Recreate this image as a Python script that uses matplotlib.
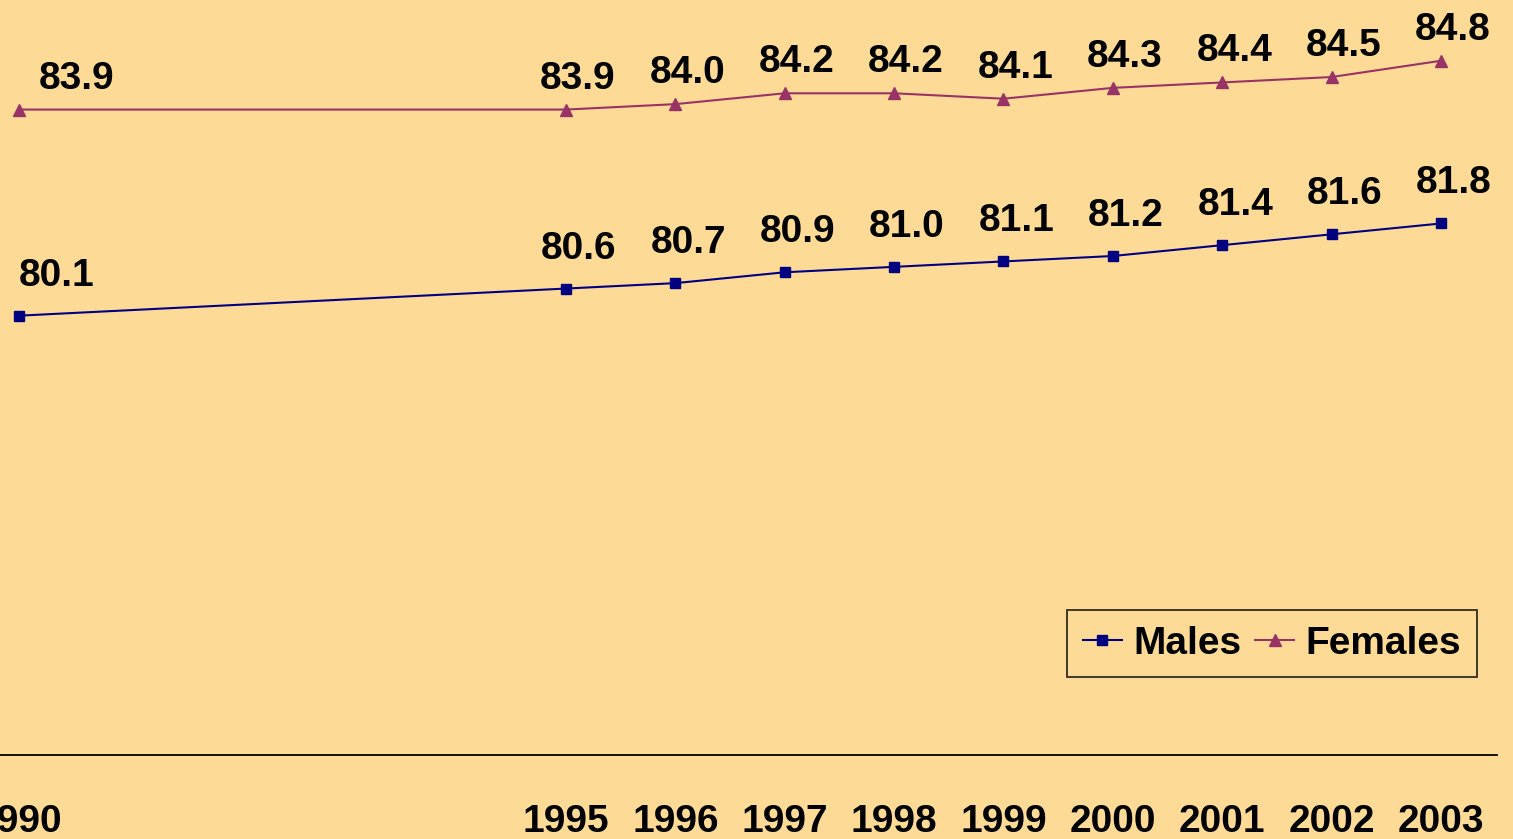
import matplotlib
matplotlib.use("Agg")
import matplotlib.pyplot as plt
from matplotlib import font_manager

years = [1990, 1995, 1996, 1997, 1998, 1999, 2000, 2001, 2002, 2003]
males = [80.1, 80.6, 80.7, 80.9, 81.0, 81.1, 81.2, 81.4, 81.6, 81.8]
females = [83.9, 83.9, 84.0, 84.2, 84.2, 84.1, 84.3, 84.4, 84.5, 84.8]
tick_labels = [str(y) for y in years]

BG = "#FDDB97"
MALE_C = "#000080"
FEMALE_C = "#993366"

names = {f.name for f in font_manager.fontManager.ttflist}
family = ["Liberation Sans Narrow", "Liberation Sans", "DejaVu Sans"]
family = [f for f in family if f in names] or ["DejaVu Sans"]
plt.rcParams["font.family"] = family
plt.rcParams["font.weight"] = "bold"

W, H = 1513, 839
fig = plt.figure(figsize=(W / 100, H / 100), dpi=100)
fig.patch.set_facecolor(BG)
ax = fig.add_axes([0, (H - 755) / H, 1497 / W, 755 / H])
ax.set_facecolor(BG)

ppy = (1441 - 19) / 13
ax.set_xlim(1990 - 19 / ppy, 2003 + 56 / ppy)
ax.set_ylim(72, 85.92)

ax.plot(years, males, color=MALE_C, lw=1.5, marker="s", ms=6.5,
        label="Males", clip_on=False)
ax.plot(years, females, color=FEMALE_C, lw=1.5, marker="^", ms=8,
        label="Females", clip_on=False)

# value labels sit above and a little right of each point
for i, (x, m, f) in enumerate(zip(years, males, females)):
    ax.annotate(f"{m:.1f}", (x, m), xytext=(13 + (25 if i == 0 else 0), 40),
                textcoords="offset pixels", ha="center", va="center",
                fontsize=28, fontweight="bold", color="black")
    ax.annotate(f"{f:.1f}", (x, f), xytext=(12 + (46 if i == 0 else 0), 31),
                textcoords="offset pixels", ha="center", va="center",
                fontsize=28, fontweight="bold", color="black")

for side in ["left", "right", "top"]:
    ax.spines[side].set_visible(False)
ax.spines["bottom"].set_color("black")
ax.spines["bottom"].set_linewidth(1.3)
ax.set_yticks([])
ax.set_xticks(years)
ax.set_xticklabels(tick_labels, fontsize=28, fontweight="bold")
ax.tick_params(axis="x", length=0, pad=35)

leg = ax.legend(loc="upper right", bbox_to_anchor=(1477 / W, 1 - 610 / H),
                bbox_transform=fig.transFigure, ncol=2, fontsize=28,
                frameon=True, fancybox=False, handlelength=1.0,
                handletextpad=0.3, columnspacing=0.35, borderpad=0.4,
                borderaxespad=0)
leg.get_frame().set_facecolor(BG)
leg.get_frame().set_edgecolor("black")
leg.get_frame().set_linewidth(1.3)
for t in leg.get_texts():
    t.set_fontweight("bold")

fig.savefig("out.png", dpi=100, facecolor=BG)
